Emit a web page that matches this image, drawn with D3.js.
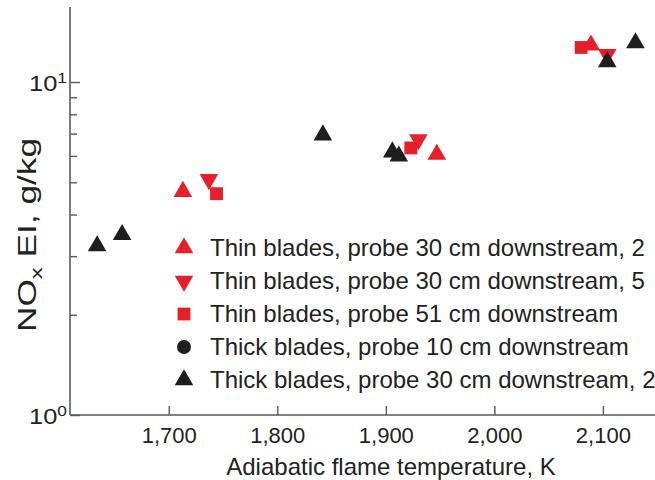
<!DOCTYPE html>
<html>
<head>
<meta charset="utf-8">
<script src="https://cdn.jsdelivr.net/npm/d3@7"></script>
<style>
  html, body { margin: 0; padding: 0; background: #fff; }
  svg { display: block; font-family: "Liberation Sans", Arial, sans-serif; }
</style>
</head>
<body>
<svg id="chart" width="655" height="480"></svg>
<script>
// Adiabatic flame temperature (K) and NOx emission index (g/kg) per test series
const thin30r2Temp = [1713, 1947, 2089];
const thin30r2EI   = [4.69, 6.06, 12.9];

const thin30r5Temp = [1737, 1930, 2104];
const thin30r5EI   = [5.10, 6.72, 12.1];

const thin51Temp = [1744, 1923, 2080];
const thin51EI   = [4.62, 6.34, 12.7];

const thick10Temp = [];
const thick10EI   = [];

const thick30r2Temp = [1634, 1657, 1842, 1906, 1912, 2104, 2130];
const thick30r2EI   = [3.22, 3.48, 6.93, 6.16, 5.99, 11.5, 13.1];

const xTicks = [1700, 1800, 1900, 2000, 2100];
const yMajorTicks = [1, 10];
const yMinorTicks = [2, 3, 4, 5, 6, 7, 8, 9];

const legendLabels = [
  "Thin blades, probe 30 cm downstream, 2",
  "Thin blades, probe 30 cm downstream, 5",
  "Thin blades, probe 51 cm downstream",
  "Thick blades, probe 10 cm downstream",
  "Thick blades, probe 30 cm downstream, 2"
];

const RED = "#e5202a";
const BLACK = "#1e1e1e";
const TEXT = "#222";
const AXIS = "#5a5a5a";

const svg = d3.select("#chart");
const plotLeft = 70, plotBottom = 415, plotTop = 7, plotRight = 655;

const x = d3.scaleLinear().domain([1609, 2148]).range([plotLeft, plotRight]);
const y = d3.scaleLog().domain([1, 16.8]).range([plotBottom, plotTop]);

// axis lines
svg.append("line").attr("x1", plotLeft).attr("x2", plotLeft).attr("y1", plotTop).attr("y2", plotBottom)
  .attr("stroke", AXIS).attr("stroke-width", 1.6);
svg.append("line").attr("x1", plotLeft).attr("x2", plotRight + 5).attr("y1", plotBottom).attr("y2", plotBottom)
  .attr("stroke", AXIS).attr("stroke-width", 1.6);

// x axis: inward ticks, thousands separators
const xAxis = svg.append("g").attr("transform", `translate(0,${plotBottom})`)
  .call(d3.axisBottom(x).tickValues(xTicks).tickFormat(d3.format(",")).tickSize(-9).tickSizeOuter(0).tickPadding(12));
xAxis.select(".domain").remove();
xAxis.selectAll(".tick line").attr("stroke", AXIS).attr("stroke-width", 1.4);
xAxis.selectAll(".tick text").attr("fill", TEXT).attr("font-size", 22).attr("font-family", "Liberation Sans, Arial, sans-serif");

// y axis: major and minor inward ticks on a log scale
const yMajor = svg.append("g").attr("transform", `translate(${plotLeft},0)`)
  .call(d3.axisLeft(y).tickValues(yMajorTicks).tickSize(-10).tickSizeOuter(0).tickFormat(() => ""));
yMajor.select(".domain").remove();
yMajor.selectAll(".tick line").attr("stroke", AXIS).attr("stroke-width", 1.4);

const yMinor = svg.append("g").attr("transform", `translate(${plotLeft},0)`)
  .call(d3.axisLeft(y).tickValues(yMinorTicks).tickSize(-7).tickSizeOuter(0).tickFormat(() => ""));
yMinor.select(".domain").remove();
yMinor.selectAll(".tick line").attr("stroke", AXIS).attr("stroke-width", 1.4);

// power-of-ten labels
yMajorTicks.forEach(v => {
  const t = svg.append("text")
    .attr("x", plotLeft - 3).attr("y", y(v) + 9)
    .attr("text-anchor", "end").attr("fill", TEXT).attr("font-size", 22)
    .attr("textLength", 38).attr("lengthAdjust", "spacingAndGlyphs");
  t.append("tspan").text("10");
  t.append("tspan").attr("font-size", 15).attr("dy", -8).text(String(Math.round(Math.log10(v))));
});

// axis titles
svg.append("text").attr("x", 391).attr("y", 475)
  .attr("text-anchor", "middle").attr("fill", TEXT).attr("font-size", 24)
  .text("Adiabatic flame temperature, K");

const yt = svg.append("text")
  .attr("transform", `translate(36,235) rotate(-90)`)
  .attr("text-anchor", "middle").attr("fill", TEXT).attr("font-size", 25)
  .attr("textLength", 194).attr("lengthAdjust", "spacingAndGlyphs");
yt.append("tspan").text("NO");
yt.append("tspan").attr("font-size", 17).attr("dy", 6).text("x");
yt.append("tspan").attr("dy", -6).text(" EI, g/kg");

// marker shapes
const triUp = d3.symbol().type(d3.symbolTriangle).size(150);
const square = d3.symbol().type(d3.symbolSquare).size(165);
const circle = d3.symbol().type(d3.symbolCircle).size(155);

function drawSeries(temps, eis, gen, color, rot) {
  svg.append("g").selectAll("path")
    .data(temps.map((t, i) => [t, eis[i]]))
    .join("path")
    .attr("d", gen())
    .attr("fill", color)
    .attr("transform", d => `translate(${x(d[0])},${y(d[1])}) rotate(${rot})`);
}

drawSeries(thin51Temp, thin51EI, square, RED, 0);
drawSeries(thin30r2Temp, thin30r2EI, triUp, RED, 0);
drawSeries(thin30r5Temp, thin30r5EI, triUp, RED, 180);
drawSeries(thick10Temp, thick10EI, circle, BLACK, 0);
drawSeries(thick30r2Temp, thick30r2EI, triUp, BLACK, 0);

// legend
const legendItems = [
  { gen: triUp, color: RED, rot: 0 },
  { gen: triUp, color: RED, rot: 180 },
  { gen: square, color: RED, rot: 0 },
  { gen: circle, color: BLACK, rot: 0 },
  { gen: triUp, color: BLACK, rot: 0 }
];
const legend = svg.append("g");
legendLabels.forEach((label, i) => {
  const cy = 248 + i * 33;
  const it = legendItems[i];
  legend.append("path").attr("d", it.gen())
    .attr("fill", it.color)
    .attr("transform", `translate(184,${cy}) rotate(${it.rot})`);
  legend.append("text").attr("x", 210).attr("y", cy + 8)
    .attr("fill", TEXT).attr("font-size", 24).text(label);
});
</script>
</body>
</html>
